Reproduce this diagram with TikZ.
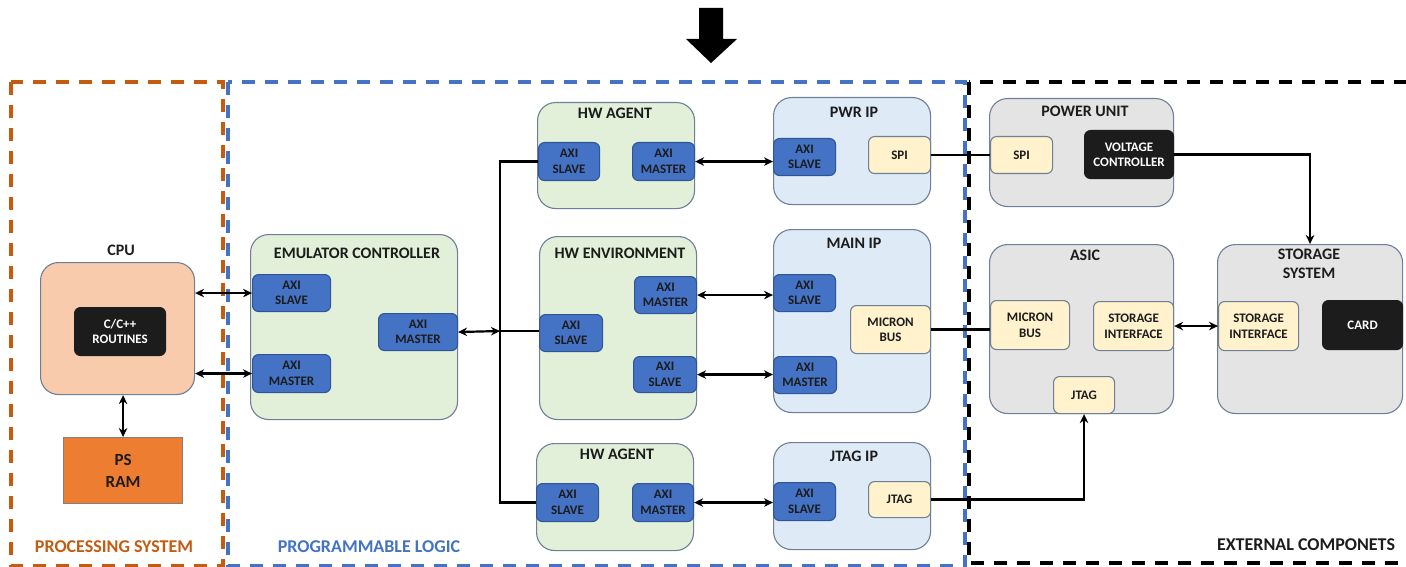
\documentclass[tikz,border=0pt]{standalone}
\usepackage{fontspec}
\setmainfont{Carlito}
\usetikzlibrary{arrows.meta}
\definecolor{grn}{HTML}{E2F0D9}
\definecolor{lblue}{HTML}{DEEBF7}
\definecolor{lgray}{HTML}{E4E4E4}
\definecolor{ylw}{HTML}{FFF2CC}
\definecolor{axib}{HTML}{4472C4}
\definecolor{axid}{HTML}{2F5597}
\definecolor{cbord}{HTML}{6F7F98}
\definecolor{peach}{HTML}{F8CBAD}
\definecolor{ramor}{HTML}{ED7D31}
\definecolor{psor}{HTML}{C55A11}
\definecolor{plblue}{HTML}{4472C4}
\definecolor{blk}{HTML}{1C1C1C}
\newcommand\bx[7]{\node[#6, anchor=north west, minimum width={(#4-#2)*1pt}, minimum height={(#5-#3)*1pt}] (#1) at (#2,#3) {#7};}
\tikzset{
  cont/.style={draw=cbord, line width=1.1pt, rounded corners=18pt, inner sep=0pt},
  modbase/.style={rounded corners=6pt, inner sep=0pt, line width=1.1pt, align=center, font=\bfseries\fontsize{13}{15.5}\selectfont},
  mod/.style={modbase, draw=axid, fill=axib, text=blk},
  ymod/.style={modbase, draw=cbord, fill=ylw, text=blk},
  bmod/.style={modbase, draw=blk, fill=blk, text=white},
  ramst/.style={draw=gray, line width=1.1pt, fill=ramor, inner sep=0pt, align=center, font=\bfseries\fontsize{17}{22}\selectfont, text=blk},
  ttl/.style={font=\bfseries\fontsize{16}{19}\selectfont, text=blk, align=center, inner sep=0pt},
  reg/.style={font=\bfseries\fontsize{18}{20}\selectfont, inner sep=0pt},
  conn/.style={line width=2.2pt, black},
  bi/.style={conn, {Stealth[length=9pt,width=8.5pt]}-{Stealth[length=9pt,width=8.5pt]}},
  uni/.style={conn, -{Stealth[length=9pt,width=8.5pt]}},
  zone/.style={line width=3.5pt, dash pattern=on 13pt off 10pt}
}
\begin{document}
\begin{tikzpicture}[x=1pt,y=-1pt]
\useasboundingbox (0,0) rectangle (1406,567);
% zones
\draw[zone, psor] (11,82) rectangle (223,566);
\draw[zone, plblue] (228,82) rectangle (965,566);
\draw[zone, black] (969,82) rectangle (1420,563);
% top arrow
\fill[black] (699,8) -- (723,8) -- (723,39) -- (737,39) -- (711,63) -- (686,39) -- (699,39) -- cycle;
% processing system
\bx{cpu}{40}{262}{194}{394}{cont,fill=peach}{}
\node[ttl] (cpuT) at (121,250) {CPU};
\bx{cpp}{74}{307}{165}{355}{bmod}{C/C++\\ROUTINES}
\bx{ram}{63}{437}{182}{503}{ramst}{PS\\RAM}
% emulator controller
\bx{ec}{250}{234}{457}{419}{cont,fill=grn}{}
\node[ttl] (ecT) at (357,253) {EMULATOR CONTROLLER};
\bx{ecs}{252}{274}{330}{311}{mod}{AXI\\SLAVE}
\bx{ecm1}{252}{354}{330}{392}{mod}{AXI\\MASTER}
\bx{ecm2}{378}{313}{457}{350}{mod}{AXI\\MASTER}
% HW agent top
\bx{ha1}{537}{102}{694}{208}{cont,fill=grn}{}
\node[ttl] (ha1T) at (615,113) {HW AGENT};
\bx{ha1s}{538}{142}{599}{180}{mod}{AXI\\SLAVE}
\bx{ha1m}{632}{142}{694}{180}{mod}{AXI\\MASTER}
% PWR IP
\bx{pwr}{773}{97}{930}{204}{cont,fill=lblue}{}
\node[ttl] (pwrT) at (854,112) {PWR IP};
\bx{pwrs}{773}{138}{835}{175}{mod}{AXI\\SLAVE}
\bx{pwrspi}{868}{136}{930}{173}{ymod}{SPI}
% HW environment
\bx{he}{539}{236}{696}{419}{cont,fill=grn}{}
\node[ttl] (heT) at (620,253) {HW ENVIRONMENT};
\bx{hem}{634}{276}{696}{313}{mod}{AXI\\MASTER}
\bx{hes}{539}{314}{602}{351}{mod}{AXI\\SLAVE}
\bx{hes2}{633}{356}{696}{392}{mod}{AXI\\SLAVE}
% MAIN IP
\bx{mip}{773}{229}{930}{412}{cont,fill=lblue}{}
\node[ttl] (mipT) at (854,243) {MAIN IP};
\bx{mips}{773}{274}{835}{311}{mod}{AXI\\SLAVE}
\bx{mipmb}{850}{305}{930}{353}{ymod}{MICRON\\BUS}
\bx{mipm}{773}{356}{836}{393}{mod}{AXI\\MASTER}
% HW agent bottom
\bx{ha2}{536}{443}{693}{550}{cont,fill=grn}{}
\node[ttl] (ha2T) at (617,454) {HW AGENT};
\bx{ha2s}{536}{483}{598}{521}{mod}{AXI\\SLAVE}
\bx{ha2m}{632}{483}{693}{521}{mod}{AXI\\MASTER}
% JTAG IP
\bx{jip}{773}{442}{930}{549}{cont,fill=lblue}{}
\node[ttl] (jipT) at (854,456) {JTAG IP};
\bx{jips}{773}{482}{835}{520}{mod}{AXI\\SLAVE}
\bx{jipj}{868}{481}{930}{517}{ymod}{JTAG}
% power unit
\bx{pu}{989}{98}{1173}{206}{cont,fill=lgray}{}
\node[ttl] (puT) at (1085,111) {POWER UNIT};
\bx{puspi}{990}{136}{1052}{173}{ymod}{SPI}
\bx{puvc}{1084}{130}{1173}{178}{bmod}{VOLTAGE\\CONTROLLER}
% ASIC
\bx{asic}{989}{244}{1173}{413}{cont,fill=lgray}{}
\node[ttl] (asicT) at (1085,255) {ASIC};
\bx{asmb}{990}{300}{1069}{349}{ymod}{MICRON\\BUS}
\bx{assi}{1093}{301}{1173}{350}{ymod}{STORAGE\\INTERFACE}
\bx{asj}{1053}{376}{1114}{413}{ymod}{JTAG}
% storage system
\bx{ss}{1217}{244}{1402}{413}{cont,fill=lgray}{}
\node[ttl] (ssT) at (1309,264) {STORAGE\\SYSTEM};
\bx{sssi}{1218}{301}{1298}{350}{ymod}{STORAGE\\INTERFACE}
\bx{sscard}{1322}{300}{1402}{349}{bmod}{CARD}
% region labels
\node[reg, text=psor] (psl) at (114,547) {PROCESSING SYSTEM};
\node[reg, text=plblue] (pll) at (369,547) {PROGRAMMABLE LOGIC};
\node[reg, text=blk] (exl) at (1306,545) {EXTERNAL COMPONETS};
% connectors
\draw[bi] (ecs.west -| cpu.east) -- (ecs.west);
\draw[bi] (ecm1.west -| cpu.east) -- (ecm1.west);
\draw[bi] (ram.north |- cpu.south) -- (ram.north);
\coordinate (bj) at (500,331);
\draw[bi] (ecm2.east) -- (bj);
\draw[conn] (bj) -- (bj -| hes.west);
\draw[conn] (ha1s.west) -| (bj) |- (ha2s.west);
\draw[bi] (ha1m.east) -- (ha1m.east -| pwrs.west);
\draw[bi] (hem.east) -- (hem.east -| mips.west);
\draw[bi] (hes2.east) -- (hes2.east -| mipm.west);
\draw[bi] (ha2m.east) -- (ha2m.east -| jips.west);
\draw[conn] (pwrspi.east) -- (pwrspi.east -| puspi.west);
\draw[conn] (mipmb.east) -- (mipmb.east -| asmb.west);
\draw[bi] (assi.east) -- (assi.east -| sssi.west);
\draw[uni] (puvc.east) -| (ss.north);
\draw[uni] (jipj.east) -| (asj.south);
\end{tikzpicture}
\end{document}
